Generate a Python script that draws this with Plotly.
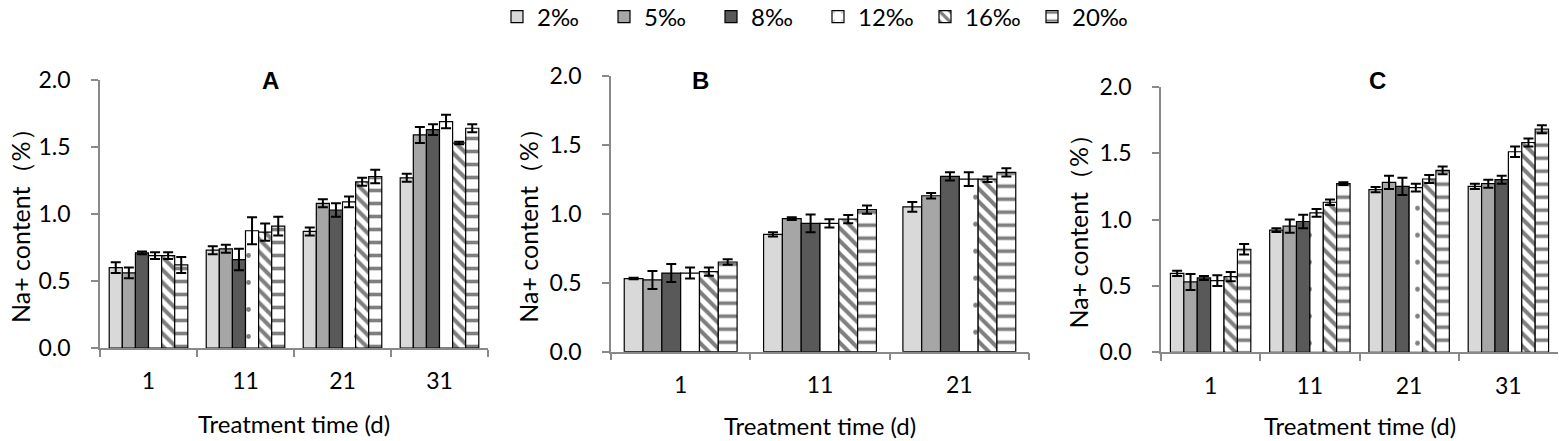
import plotly.graph_objects as go

# ---------------- data ----------------
series = ["2‰", "5‰", "8‰", "12‰", "16‰", "20‰"]

cats_A = ["1", "11", "21", "31"]
cats_B = ["1", "11", "21"]
cats_C = ["1", "11", "21", "31"]

vals_A = [
    [0.60, 0.73, 0.87, 1.27],
    [0.56, 0.74, 1.08, 1.59],
    [0.71, 0.66, 1.03, 1.63],
    [0.69, 0.875, 1.09, 1.69],
    [0.69, 0.865, 1.24, 1.53],
    [0.62, 0.91, 1.28, 1.64],
]
err_A = [
    [0.04, 0.03, 0.03, 0.03],
    [0.04, 0.03, 0.03, 0.06],
    [0.01, 0.08, 0.05, 0.04],
    [0.025, 0.10, 0.04, 0.05],
    [0.025, 0.065, 0.03, 0.01],
    [0.06, 0.07, 0.05, 0.03],
]

vals_B = [
    [0.53, 0.85, 1.05],
    [0.52, 0.965, 1.13],
    [0.57, 0.93, 1.27],
    [0.57, 0.93, 1.25],
    [0.58, 0.96, 1.25],
    [0.65, 1.03, 1.30],
]
err_B = [
    [0.005, 0.015, 0.035],
    [0.065, 0.01, 0.02],
    [0.065, 0.065, 0.03],
    [0.04, 0.03, 0.05],
    [0.03, 0.03, 0.02],
    [0.02, 0.03, 0.03],
]

vals_C = [
    [0.595, 0.92, 1.225, 1.25],
    [0.53, 0.95, 1.28, 1.27],
    [0.56, 0.985, 1.25, 1.30],
    [0.54, 1.05, 1.24, 1.51],
    [0.57, 1.13, 1.305, 1.58],
    [0.776, 1.27, 1.37, 1.68],
]
err_C = [
    [0.02, 0.015, 0.02, 0.02],
    [0.06, 0.05, 0.05, 0.03],
    [0.015, 0.05, 0.065, 0.03],
    [0.04, 0.03, 0.03, 0.04],
    [0.035, 0.02, 0.03, 0.03],
    [0.04, 0.01, 0.03, 0.03],
]

panel_titles = ["A", "B", "C"]
x_title = "Treatment time (d)"
y_title = "Na+ content（%）"

# ---------------- styles ----------------
fills = ["#D9D9D9", "#A6A6A6", "#595959", "#FFFFFF", "#FFFFFF", "#FFFFFF"]
patterns = [
    None,
    None,
    None,
    dict(shape=".", fgcolor="black", bgcolor="white", size=27, solidity=0.025),
    dict(shape="\\", fgcolor="black", bgcolor="white", size=9, solidity=0.45),
    dict(shape="-", fgcolor="black", bgcolor="white", size=13, solidity=0.28),
]

W, H = 1559, 441
FONT = "Lato"
AX_COL = "#898989"

# plot areas in pixels: (x0, x1, ytop, ybottom)
areas = [
    (100, 488, 80, 348),
    (611, 1029, 75.7, 351.7),
    (1161, 1558, 86.7, 352.3),
]

fig = go.Figure()

panels = [(cats_A, vals_A, err_A), (cats_B, vals_B, err_B), (cats_C, vals_C, err_C)]
for p, (cats, vals, errs) in enumerate(panels):
    xa = "x" if p == 0 else f"x{p+1}"
    ya = "y" if p == 0 else f"y{p+1}"
    for i, s in enumerate(series):
        marker = dict(color=fills[i], line=dict(color="black", width=1.2))
        if patterns[i] is not None:
            marker["pattern"] = patterns[i]
        fig.add_trace(go.Bar(
            x=cats, y=vals[i], name=s, xaxis=xa, yaxis=ya,
            marker=marker, legendgroup=s, showlegend=(p == 0),
            error_y=dict(type="data", array=errs[i], visible=True,
                         color="black", thickness=2, width=5),
        ))

layout = dict(
    width=W, height=H,
    margin=dict(l=0, r=0, t=0, b=0, autoexpand=False),
    paper_bgcolor="white", plot_bgcolor="white",
    barmode="group", bargap=0.19, bargroupgap=0,
    font=dict(family=FONT, size=22, color="black"),
    showlegend=True,
    legend=dict(orientation="h", x=497 / W, xanchor="left", y=(H - 17) / H, yanchor="middle",
                font=dict(family=FONT, size=24), itemwidth=30,
                entrywidth=62, entrywidthmode="pixels",
                traceorder="normal", bgcolor="rgba(0,0,0,0)"),
)

annotations = []
title_pos = [(270, 81), (700, 81), (1377, 81)]
ytitle_x = [20, 528, 1077]
xtitle_y = [423, 425, 425]
for p, (x0, x1, yt, yb) in enumerate(areas):
    sfx = "" if p == 0 else str(p + 1)
    layout["xaxis" + sfx] = dict(
        domain=[x0 / W, x1 / W], anchor="y" + sfx, type="category",
        showline=True, linecolor=AX_COL, linewidth=1.5,
        ticks="outside", tickson="boundaries", ticklen=7, tickcolor=AX_COL, tickwidth=1.5,
        showgrid=False, zeroline=False,
        tickfont=dict(family=FONT, size=23), ticklabelstandoff=12,
        fixedrange=True, automargin=False,
    )
    layout["yaxis" + sfx] = dict(
        domain=[(H - yb) / H, (H - yt) / H], anchor="x" + sfx,
        range=[0, 2], dtick=0.5, tick0=0, tickformat=".1f",
        showline=True, linecolor=AX_COL, linewidth=1.5,
        ticks="outside", ticklen=7, tickcolor=AX_COL, tickwidth=1.5,
        showgrid=False, zeroline=False,
        tickfont=dict(family=FONT, size=23), ticklabelstandoff=16,
        fixedrange=True, automargin=False,
    )
    tx, ty = title_pos[p]
    annotations.append(dict(
        text="<b>" + panel_titles[p] + "</b>", x=tx / W, y=(H - ty) / H,
        xref="paper", yref="paper", xanchor="center", yanchor="middle",
        showarrow=False, font=dict(family="Liberation Sans", size=24, color="black"),
    ))
    annotations.append(dict(
        text=y_title, x=ytitle_x[p] / W, y=(H - (yt + yb) / 2 - 6) / H,
        xref="paper", yref="paper", xanchor="center", yanchor="middle",
        textangle=-90, showarrow=False, font=dict(family=FONT, size=25, color="black"),
    ))
    annotations.append(dict(
        text=x_title, x=(x0 + x1) / 2 / W, y=(H - xtitle_y[p]) / H,
        xref="paper", yref="paper", xanchor="center", yanchor="middle",
        showarrow=False, font=dict(family=FONT, size=24, color="black"),
    ))

layout["annotations"] = annotations
fig.update_layout(**layout)

fig.write_html(
    "out.html",
    config={"displayModeBar": False},
    post_script="document.body.style.margin='0px';document.body.style.padding='0px';document.body.style.overflow='hidden';",
)
